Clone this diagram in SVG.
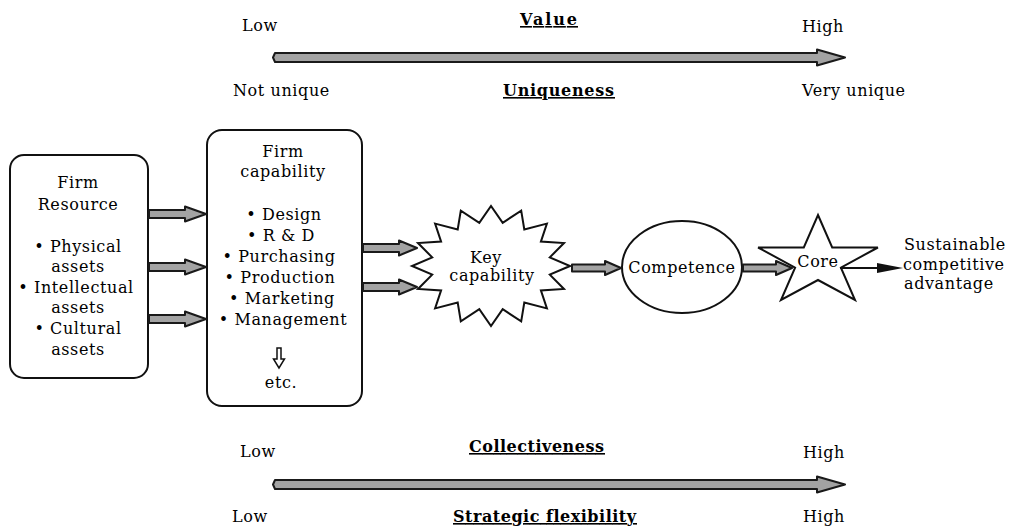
<svg xmlns="http://www.w3.org/2000/svg" width="1011" height="528" viewBox="0 0 1011 528">
<style>
text{font-family:"DejaVu Serif","Liberation Serif",serif;font-size:16px;fill:#000;letter-spacing:0.6px}
.c{text-anchor:middle}
.h{font-weight:bold;text-decoration:underline;letter-spacing:1px}
.box{fill:#fff;stroke:#111;stroke-width:2}
.shape{fill:#fff;stroke:#111;stroke-width:2;stroke-linejoin:miter}
.ga{fill:#a3a3a3;stroke:#1a1a1a;stroke-width:2;stroke-linejoin:round}
</style>
<rect width="1011" height="528" fill="#fff"/>

<g id="scale-top">
<text x="242" y="31">Low</text>
<text class="c h" x="549" y="25" textLength="58" lengthAdjust="spacing">Value</text>
<text x="802" y="32">High</text>
<text x="233" y="96">Not unique</text>
<text class="c h" x="559" y="96" textLength="112" lengthAdjust="spacing">Uniqueness</text>
<text x="802" y="96">Very unique</text>
</g>

<g id="scale-bottom">
<text x="240" y="457">Low</text>
<text class="c h" x="537" y="452" textLength="136" lengthAdjust="spacing">Collectiveness</text>
<text x="803" y="458">High</text>
<text x="232" y="522">Low</text>
<text class="c h" x="545" y="522" textLength="184" lengthAdjust="spacing">Strategic flexibility</text>
<text x="803" y="522">High</text>
</g>

<g id="firm-resource">
<rect class="box" x="10" y="155" width="138" height="223" rx="14"/>
<text class="c" x="78" y="188">Firm</text>
<text class="c" x="78" y="210">Resource</text>
<text class="c" x="78" y="252">• Physical</text>
<text class="c" x="78" y="272">assets</text>
<text class="c" x="76" y="293">• Intellectual</text>
<text class="c" x="78" y="313">assets</text>
<text class="c" x="78" y="334">• Cultural</text>
<text class="c" x="78" y="355">assets</text>
</g>

<g id="firm-capability">
<rect class="box" x="207" y="130" width="155" height="276" rx="15"/>
<text class="c" x="283" y="157">Firm</text>
<text class="c" x="283" y="177">capability</text>
<text class="c" x="284" y="220">• Design</text>
<text class="c" x="281" y="241">• R &amp; D</text>
<text class="c" x="279" y="262">• Purchasing</text>
<text class="c" x="280" y="283">• Production</text>
<text class="c" x="282" y="304">• Marketing</text>
<text class="c" x="283" y="325">• Management</text>
<polygon points="277,348 281,348 281,359 284.5,359 279,368 273.5,359 277,359" fill="#fff" stroke="#111" stroke-width="1.5"/>
<text class="c" x="281" y="388">etc.</text>
</g>

<g id="key-capability">
<polygon class="shape" points="570,266 549.8,274.6 564,289 540.9,290.4 546.9,308.4 524.3,302.6 521.2,321.4 502.7,309.2 491,326 479.3,309.2 460.8,321.4 457.7,302.6 435.1,308.4 441.1,290.4 418,289 432.2,274.6 412,266 432.2,257.4 418,243 441.1,241.6 435.1,223.6 457.7,229.4 460.8,210.6 479.3,222.8 491,206 502.7,222.8 521.2,210.6 524.3,229.4 546.9,223.6 540.9,241.6 564,243 549.8,257.4"/>
<text class="c" x="486" y="263">Key</text>
<text class="c" x="492" y="281">capability</text>
</g>

<g id="competence">
<ellipse class="shape" cx="682" cy="267" rx="60" ry="46"/>
<text class="c" x="682" y="273">Competence</text>
</g>

<g id="core">
<polygon class="shape" points="818,215 832.2,247.4 877.9,247.5 840.9,267.6 855,300 818,280 781,300 795.1,267.6 758.1,247.5 803.8,247.4"/>
<text class="c" x="818" y="267">Core</text>
</g>

<g id="sustainable">
<text x="904" y="250">Sustainable</text>
<text x="903" y="270">competitive</text>
<text x="904" y="289">advantage</text>
</g>

<g id="connectors">
<polygon class="ga" points="275,53 817,53 817,49.5 845,57.5 817,65.5 817,62 275,62 273,57.5"/>
<polygon class="ga" points="275,480 817,480 817,476.5 845,484.5 817,492.5 817,489 275,489 273,484.5"/>
<polygon class="ga" points="149,210 185,210 185,206.5 206,214 185,221.5 185,218 149,218"/>
<polygon class="ga" points="149,263 185,263 185,259.5 206,267 185,274.5 185,271 149,271"/>
<polygon class="ga" points="149,315 185,315 185,311.5 206,319 185,326.5 185,323 149,323"/>
<polygon class="ga" points="363,244 399,244 399,240.5 417,248 399,255.5 399,252 363,252"/>
<polygon class="ga" points="363,283 399,283 399,279.5 417,287 399,294.5 399,291 363,291"/>
<polygon class="ga" points="572,264.5 605,264.5 605,261 621,268 605,275 605,271.5 572,271.5"/>
<polygon class="ga" points="743,264.5 776,264.5 776,261 792,268 776,275 776,271.5 743,271.5"/>
<line x1="840" y1="268" x2="880" y2="268" stroke="#111" stroke-width="2"/>
<polygon points="877,263 903,268 877,273" fill="#111"/>
</g>
</svg>
